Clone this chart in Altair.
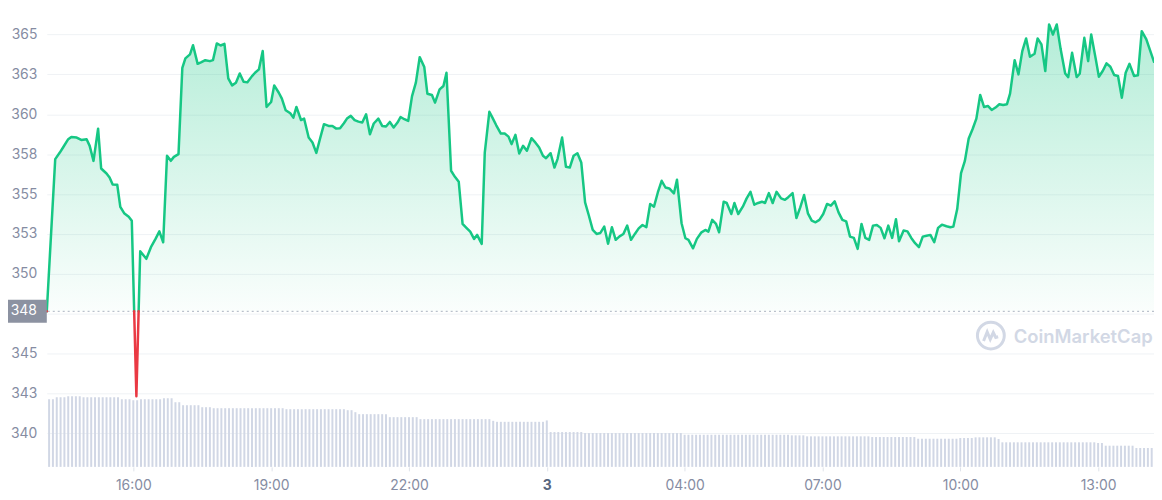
import altair as alt
import pandas as pd

# ---- data (minutes after 00:00 of day 2) ----
t_min = [
    847, 858, 864, 868, 875, 879, 886, 892, 899, 903,
    908, 914, 918, 925, 929, 933, 939, 943, 948, 954,
    958, 964, 969, 977, 983, 989, 994, 999, 1004, 1009,
    1013, 1019, 1024, 1028, 1034, 1038, 1044, 1049, 1054, 1060,
    1064, 1069, 1074, 1079, 1084, 1089, 1094, 1099, 1104, 1109,
    1115, 1119, 1124, 1129, 1134, 1140, 1144, 1150, 1154, 1159,
    1165, 1169, 1173, 1179, 1183, 1189, 1194, 1199, 1204, 1209,
    1215, 1220, 1225, 1230, 1235, 1239, 1244, 1249, 1254, 1259,
    1264, 1269, 1274, 1280, 1285, 1290, 1295, 1300, 1305, 1309,
    1314, 1319, 1324, 1329, 1334, 1340, 1344, 1350, 1354, 1360,
    1365, 1369, 1375, 1380, 1385, 1390, 1395, 1400, 1405, 1409,
    1415, 1419, 1425, 1429, 1434, 1440, 1445, 1450, 1454, 1459,
    1464, 1469, 1474, 1480, 1484, 1490, 1495, 1499, 1505, 1510,
    1514, 1520, 1525, 1530, 1535, 1540, 1545, 1550, 1555, 1560,
    1565, 1570, 1575, 1580, 1585, 1590, 1595, 1600, 1605, 1610,
    1615, 1620, 1625, 1630, 1635, 1640, 1645, 1650, 1655, 1660,
    1666, 1670, 1676, 1681, 1685, 1691, 1696, 1702, 1707, 1711,
    1716, 1721, 1725, 1731, 1735, 1741, 1745, 1750, 1756, 1761,
    1766, 1771, 1776, 1781, 1785, 1790, 1795, 1800, 1806, 1811,
    1815, 1821, 1826, 1831, 1836, 1841, 1846, 1851, 1856, 1861,
    1866, 1871, 1876, 1881, 1886, 1891, 1896, 1901, 1906, 1911,
    1916, 1921, 1926, 1931, 1936, 1941, 1946, 1951, 1956, 1960,
    1966, 1971, 1976, 1981, 1986, 1991, 1996, 2001, 2006, 2011,
    2016, 2022, 2027, 2031, 2036, 2041, 2046, 2051, 2056, 2061,
    2066, 2071, 2076, 2081, 2086, 2091, 2096, 2101, 2105, 2111,
    2116, 2121, 2126, 2131, 2137, 2141, 2146, 2151, 2156, 2161,
    2166, 2171, 2177, 2181, 2186, 2192, 2196, 2202, 2207, 2211,
    2217, 2221, 2226, 2231, 2236, 2241, 2246, 2251, 2256, 2261,
    2267, 2272, 2277, 2283, 2293,
]

price = [
    347.65, 357.19, 357.60, 357.90, 358.44, 358.58, 358.54, 358.39, 358.44, 358.02,
    357.08, 359.10, 356.60, 356.29, 356.04, 355.60, 355.58, 354.20, 353.80, 353.58,
    353.33, 342.33, 351.41, 350.94, 351.67, 352.19, 352.66, 351.98, 357.40, 357.08,
    357.33, 357.50, 362.91, 363.50, 363.75, 364.33, 363.16, 363.27, 363.39, 363.33,
    363.39, 364.44, 364.31, 364.41, 362.25, 361.81, 361.98, 362.56, 362.04, 362.00,
    362.39, 362.60, 362.81, 363.96, 360.46, 360.77, 361.81, 361.35, 360.98, 360.25,
    360.06, 359.79, 360.46, 359.64, 359.73, 358.54, 358.23, 357.58, 358.50, 359.38,
    359.27, 359.27, 359.10, 359.13, 359.44, 359.73, 359.90, 359.63, 359.54, 359.48,
    360.00, 358.75, 359.42, 359.73, 359.27, 359.23, 359.52, 359.17, 359.48, 359.83,
    359.69, 359.58, 361.14, 361.98, 363.58, 362.96, 361.29, 361.21, 360.73, 361.56,
    361.77, 362.60, 356.46, 356.08, 355.77, 353.13, 352.88, 352.64, 352.19, 352.44,
    351.88, 357.60, 360.16, 359.79, 359.31, 358.79, 358.79, 358.60, 358.13, 358.71,
    357.54, 358.02, 357.71, 358.50, 358.29, 357.92, 357.40, 357.25, 357.56, 356.66,
    357.19, 358.54, 356.71, 356.66, 357.40, 357.56, 356.98, 354.48, 353.64, 352.75,
    352.50, 352.56, 352.96, 351.88, 352.92, 352.13, 352.35, 352.50, 353.02, 352.13,
    352.50, 352.85, 353.06, 352.92, 354.38, 354.21, 355.10, 355.83, 355.41, 355.35,
    355.04, 355.90, 353.17, 352.23, 352.13, 351.60, 352.19, 352.60, 352.75, 352.64,
    353.38, 353.13, 352.60, 354.52, 354.44, 353.75, 354.44, 353.75, 354.21, 354.73,
    355.14, 354.33, 354.44, 354.52, 354.44, 355.06, 354.44, 355.14, 354.73, 354.64,
    354.79, 355.06, 353.50, 354.16, 354.94, 353.79, 353.33, 353.23, 353.38, 353.75,
    354.38, 354.27, 354.54, 353.85, 353.38, 353.29, 352.33, 352.25, 351.56, 353.13,
    352.25, 352.13, 353.02, 353.06, 352.88, 352.23, 353.02, 352.25, 353.42, 352.04,
    352.71, 352.66, 352.25, 351.92, 351.67, 352.33, 352.39, 352.44, 351.98, 352.88,
    353.08, 352.98, 352.92, 352.96, 354.06, 356.31, 357.08, 358.48, 359.06, 359.73,
    361.21, 360.46, 360.52, 360.27, 360.42, 360.63, 360.58, 360.63, 361.29, 363.39,
    362.50, 363.96, 364.75, 363.60, 363.79, 364.75, 364.38, 362.71, 365.63, 365.00,
    365.63, 364.10, 362.56, 362.33, 363.85, 362.33, 362.54, 364.79, 363.33, 365.00,
    363.44, 362.35, 362.71, 363.19, 362.98, 362.46, 362.40, 361.04, 362.60, 363.16,
    362.40, 362.44, 365.21, 364.69, 363.29,
]

# rolling volume (no axis in the reference: relative units), read as steps
vol_start = [847, 857, 873, 892, 942, 959, 968, 1000, 1011, 1022, 1046, 1063, 1159,
             1238, 1246, 1255, 1295, 1334, 1426, 1434, 1499, 1504, 1548, 1678, 1817,
             1837, 1921, 1985, 2039, 2059, 2087, 2094, 2218, 2228, 2270]
vol_value = [68, 70, 71, 70, 68, 67, 68, 69, 65, 62, 60, 59, 58,
             57, 55, 53, 50, 48, 46.3, 45.3, 46.7, 35, 34, 32.3, 31.7,
             30.7, 30, 28.3, 29, 29.7, 28, 24.7, 24, 21.3, 19]
vol_bar_first, vol_bar_last, vol_bar_step = 850, 2290, 5

# x ticks every 3 hours; the day marker "3" sits on the 4th tick
x_tick_min = [960, 1140, 1320, 1500, 1680, 1860, 2040, 2220]
day_tick = 1500
day_label = "3"
y_tick_vals = [340, 342.5, 345, 347.5, 350, 352.5, 355, 357.5, 360, 362.5, 365]

GREEN = "#16c784"
RED = "#ea3943"
LABEL = "#858ca2"
FONT = "Inter"

base = price[0]  # opening price -> dotted reference line

# ---- path with threshold crossings so the line switches colour exactly at the baseline ----
pts = []
for i, (tm, v) in enumerate(zip(t_min, price)):
    if i > 0:
        a = price[i - 1]
        if (a - base) * (v - base) < 0:
            f = (base - a) / (v - a)
            pts.append((t_min[i - 1] + f * (tm - t_min[i - 1]), base))
    pts.append((tm, v))

rows = []
for side, member in (("up", lambda v: v >= base), ("down", lambda v: v <= base)):
    run, prev = 0, False
    for tm, v in pts:
        m = member(v)
        if m and not prev:
            run += 1
        if m:
            rows.append({"t": tm, "v": v, "side": side, "run": f"{side}{run}"})
        prev = m
line_df = pd.DataFrame(rows)
area_df = pd.DataFrame({"t": [p[0] for p in pts],
                        "v": [max(p[1], base) for p in pts],
                        "b": base})
base_df = pd.DataFrame({"base": [base]})

bars_t, bars_v = [], []
tb = vol_bar_first
while tb <= vol_bar_last:
    idx = max(i for i, s in enumerate(vol_start) if s <= tb)
    bars_t.append(tb)
    bars_v.append(vol_value[idx])
    tb += vol_bar_step
vol_df = pd.DataFrame({"t": bars_t, "vol": bars_v})

# ---- scales ----
xscale = alt.Scale(domain=[847, 2293], nice=False, zero=False, padding=0)
yscale = alt.Scale(domain=[337.9, 366.58], nice=False, zero=False, padding=0)

is_day = f"datum.value == {day_tick}"
x_axis = alt.Axis(
    values=x_tick_min,
    labelExpr=f"{is_day} ? '{day_label}' : ((floor(datum.value/60) % 24) < 10 ? '0' : '') + (floor(datum.value/60) % 24) + ':00'",
    grid=False, domain=False, ticks=True, tickSize=4, tickColor="#dfe3ea",
    labelPadding=8, labelFontSize=14, labelFont=FONT,
    labelColor={"condition": {"test": is_day, "value": "#58667e"}, "value": LABEL},
    labelFontWeight={"condition": {"test": is_day, "value": "bold"}, "value": "normal"},
    labelFlush=False, labelOverlap=False, title=None, orient="bottom",
)
y_axis = alt.Axis(
    values=y_tick_vals,
    labelExpr="datum.value == 347.5 ? '' : format(datum.value, '.0f')",
    grid=True, gridColor="#eff2f5", gridWidth=1, domain=False, ticks=False,
    labelPadding=10, labelFontSize=14, labelFont=FONT, labelColor=LABEL, title=None,
)

# ---- layers ----
volume = alt.Chart(vol_df).mark_bar(size=2, color="#d1d7e5").encode(
    x=alt.X("t:Q", scale=xscale, axis=x_axis),
    y=alt.Y("vol:Q", scale=alt.Scale(domain=[0, 460], nice=False, padding=0), axis=None),
)

area = alt.Chart(area_df).mark_area(
    fill=alt.Gradient(
        gradient="linear",
        stops=[alt.GradientStop(color="rgba(22,199,132,0.32)", offset=0),
               alt.GradientStop(color="rgba(22,199,132,0.02)", offset=1)],
        x1=1, x2=1, y1=0, y2=1,
    ),
    line=False,
).encode(
    x=alt.X("t:Q", scale=xscale, axis=x_axis),
    y=alt.Y("v:Q", scale=yscale, axis=y_axis),
    y2="b:Q",
)

baseline = alt.Chart(base_df).mark_rule(strokeDash=[2, 3], color="#aab2c0", strokeWidth=1).encode(
    y=alt.Y("base:Q", scale=yscale),
)

line = alt.Chart(line_df).mark_line(strokeWidth=2.5, strokeJoin="round", strokeCap="round").encode(
    x=alt.X("t:Q", scale=xscale),
    y=alt.Y("v:Q", scale=yscale),
    color=alt.Color("side:N", scale=alt.Scale(domain=["up", "down"], range=[GREEN, RED]), legend=None),
    detail="run:N",
    order="t:Q",
)

label_box = alt.Chart(base_df).mark_point(
    shape="M-1,-0.59L1,-0.59L1,0.59L-1,0.59Z", size=1521, filled=True,
    color="#8c92a1", opacity=1,
).encode(x=alt.value(-19.5), y=alt.Y("base:Q", scale=yscale))

label_text = alt.Chart(base_df).mark_text(
    align="right", baseline="middle", fontSize=14, font=FONT, color="white",
).encode(x=alt.value(-10), y=alt.Y("base:Q", scale=yscale), text=alt.Text("base:Q", format=".0f"))

logo_ring = alt.Chart(base_df).mark_point(
    shape="circle", size=729, filled=False, strokeWidth=3, color="#d2d8e5", opacity=1,
).encode(x=alt.value(949), y=alt.value(328))
logo_wave = alt.Chart(base_df).mark_point(
    shape="M-0.6,0.45 L-0.3,-0.3 L-0.05,0.3 L0.2,-0.25 L0.4,0.15 L0.6,0.1",
    size=600, filled=False, strokeWidth=3, color="#d2d8e5", opacity=1,
).encode(x=alt.value(949), y=alt.value(328))
logo_text = alt.Chart(base_df).mark_text(
    text="CoinMarketCap", align="left", baseline="middle", fontSize=18.5, fontWeight=600,
    font=FONT, color="#d2d8e5",
).encode(x=alt.value(972), y=alt.value(329))

price_group = alt.layer(area, baseline, line, label_box, label_text, logo_ring, logo_wave, logo_text)

chart = alt.layer(volume, price_group).resolve_scale(y="independent").properties(
    width=1113, height=460,
    autosize=alt.AutoSizeParams(type="none"),
    padding={"left": 39, "top": 0, "right": 0, "bottom": 32},
    background="white",
).configure_view(stroke=None)

chart.save("out.html", embed_options={"renderer": "svg", "actions": False})
